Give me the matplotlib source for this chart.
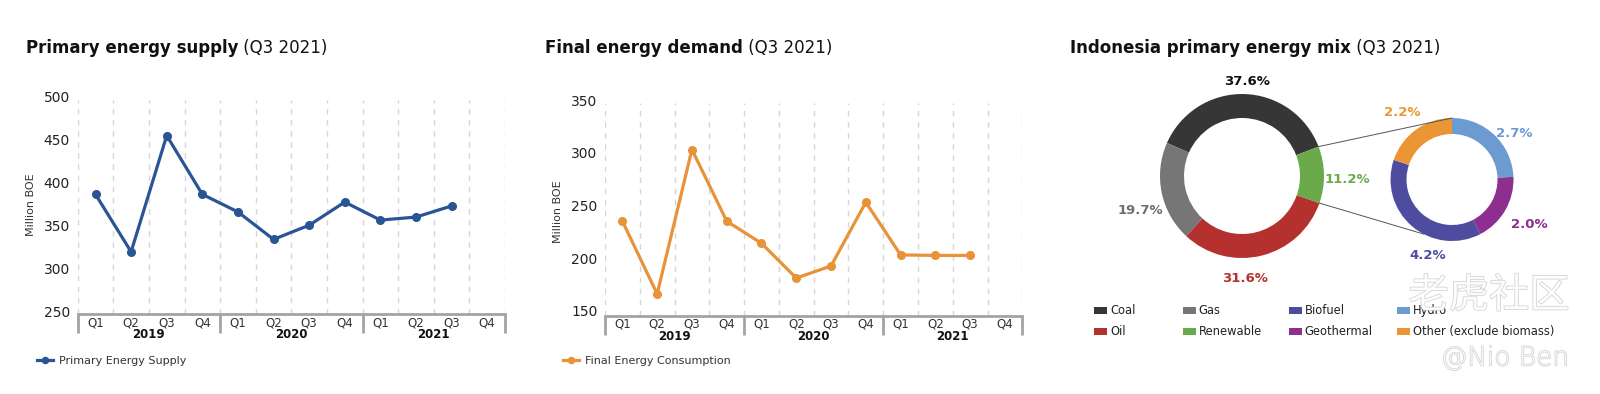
import matplotlib
matplotlib.use("Agg")
import matplotlib.pyplot as plt
import matplotlib.transforms as mtransforms
import matplotlib.patheffects as pe
import numpy as np

# ---------------- data ----------------
quarters = ["Q1", "Q2", "Q3", "Q4"] * 3
years = ["2019", "2020", "2021"]
supply = [386.5, 319.5, 455, 386.5, 366, 334, 350.5, 377.5, 356.5, 360, 373]
demand = [235, 166, 303, 235, 214, 181, 192.5, 253, 203, 202.5, 202.5]

mix_labels = ["Coal", "Gas", "Oil", "Renewable"]
mix_values = [37.6, 19.7, 31.6, 11.2]
ren_labels = ["Biofuel", "Geothermal", "Hydro", "Other (exclude biomass)"]
ren_values = [4.2, 2.0, 2.7, 2.2]

# ---------------- styles ----------------
W, H = 1600, 394
BLUE = "#2a5595"
ORANGE = "#e8923a"
mix_colors = ["#363636", "#767676", "#b5312f", "#6aaa4b"]
ren_colors = ["#4e4c9e", "#8e2e8e", "#6c9bd2", "#ec9535"]
TXT = "#222222"
plt.rcParams["font.family"] = ["DejaVu Sans"]

fig = plt.figure(figsize=(W / 100, H / 100), dpi=100)
fig.patch.set_facecolor("white")


def px_axes(l, t, r, b):
    return fig.add_axes([l / W, 1 - b / H, (r - l) / W, (b - t) / H])


def fx(x):
    return x / W


def fy(y):
    return 1 - y / H


def title(x, y, bold, rest):
    t = fig.text(fx(x), fy(y), bold, fontsize=12, fontweight="bold",
                 color="#111111", va="baseline", ha="left")
    a = plt.annotate(" " + rest, xy=(1, 0), xycoords=t, va="bottom",
                     ha="left", fontsize=12, color="#111111",
                     annotation_clip=False)
    return t, a


def line_chart(box, values, color, ylim, yticks, legend_label, leg_xy, ylab_xy):
    ax = px_axes(*box)
    n = len(quarters)
    x = np.arange(len(values))
    ax.plot(x, values, color=color, lw=2.3, marker="o", ms=5.5, zorder=3,
            solid_joinstyle="round", label=legend_label)
    ax.set_xlim(-0.5, n - 0.5)
    ax.set_ylim(*ylim)
    ax.set_yticks(yticks)
    ax.tick_params(axis="y", length=0, pad=5.5, labelsize=10, labelcolor=TXT)
    ax.set_xticks(np.arange(n))
    ax.set_xticklabels(quarters, fontsize=8.5, color="#333333")
    ax.tick_params(axis="x", length=0, pad=1.5)
    for s in ["top", "right", "left"]:
        ax.spines[s].set_visible(False)
    ax.spines["bottom"].set_color("#a3a3a3")
    ax.spines["bottom"].set_linewidth(2.0)
    for b in np.arange(-0.5, n, 1.0):
        ax.axvline(b, ymin=0, ymax=0.985, color="#d6d6d6", lw=1.0,
                   ls=(0, (4, 4)), zorder=0)
    trans = mtransforms.blended_transform_factory(ax.transData, ax.transAxes)
    hpx = (box[3] - box[1])
    for b in np.arange(-0.5, n, 4.0):
        ax.plot([b, b], [0, -19 / hpx], color="#a3a3a3", lw=2.0,
                transform=trans, clip_on=False, solid_capstyle="butt")
    for i, yr in enumerate(years):
        ax.text(4 * i + 1.5, -20.5 / hpx, yr, transform=trans, ha="center",
                va="center", fontsize=8.5, fontweight="bold", color="#111111")
    fig.text(fx(ylab_xy[0]), fy(ylab_xy[1]), "Million BOE", rotation=90,
             ha="center", va="center", fontsize=8, color="#333333")
    ax.legend(loc="center left", bbox_to_anchor=(fx(leg_xy[0]), fy(leg_xy[1])),
              bbox_transform=fig.transFigure, frameon=False, fontsize=8,
              handlelength=1.4, handletextpad=0.6, borderpad=0,
              borderaxespad=0, labelcolor="#333333", markerscale=0.8)
    return ax


ax1 = line_chart((77.7, 97, 505, 314), supply, BLUE, (247, 500),
                 [250, 300, 350, 400, 450, 500], "Primary Energy Supply",
                 (37, 361), (31.5, 205))
ax2 = line_chart((605, 100, 1022.3, 315.7), demand, ORANGE, (145.3, 350),
                 [150, 200, 250, 300, 350], "Final Energy Consumption",
                 (563, 361), (558, 212))

title(26, 53, "Primary energy supply", "(Q3 2021)")
title(545, 53, "Final energy demand", "(Q3 2021)")
title(1070, 53, "Indonesia primary energy mix", "(Q3 2021)")

# ---------------- donut charts ----------------
ax3 = fig.add_axes([1040 / W, 0, 560 / W, 1])
C1 = (1242, H - 176)
R1 = 82
C2 = (1452, H - 179.5)
R2 = 61.5
start1 = 21
w1, _ = ax3.pie(mix_values, colors=mix_colors, startangle=start1,
                counterclock=True, radius=R1, center=C1, frame=False,
                wedgeprops=dict(width=24, linewidth=0))
start2 = 90 + ren_values[3] / sum(ren_values) * 360
w2, _ = ax3.pie(ren_values, colors=ren_colors, startangle=start2,
                counterclock=True, radius=R2, center=C2, frame=False,
                wedgeprops=dict(width=16, linewidth=0))
ax3.set_xlim(1040, 1600)
ax3.set_ylim(0, H)
ax3.set_aspect("auto")
ax3.axis("off")

# connector lines
a_top = np.deg2rad(start1)
a_bot = np.deg2rad(start1 - mix_values[3] / sum(mix_values) * 360)
p1 = (C1[0] + R1 * np.cos(a_top), C1[1] + R1 * np.sin(a_top))
p2 = (C1[0] + R1 * np.cos(a_bot), C1[1] + R1 * np.sin(a_bot))
q1 = (C2[0], C2[1] + R2)
ab = np.deg2rad(-117.5)
q2 = (C2[0] + R2 * np.cos(ab), C2[1] + R2 * np.sin(ab))
ax3.plot([p1[0], q1[0]], [p1[1], q1[1]], color="#555555", lw=0.7)
ax3.plot([p2[0], q2[0]], [p2[1], q2[1]], color="#555555", lw=0.7)

# percentage labels (pixel layout)
mix_lab_pos = [(1246.7, 81.7), (1140.7, 210), (1245, 279), (1347.7, 179.3)]
mix_lab_col = ["#111111", "#6f6f6f", "#b5312f", "#6aaa4b"]
for v, (x, y), c in zip(mix_values, mix_lab_pos, mix_lab_col):
    ax3.text(x, H - y, f"{v:.1f}%", ha="center", va="center", fontsize=9.5,
             fontweight="bold", color=c)
ren_lab_pos = [(1427.7, 255.7), (1529, 224), (1514, 133.3), (1402.7, 112.3)]
for v, (x, y), c in zip(ren_values, ren_lab_pos, ren_colors):
    ax3.text(x, H - y, f"{v:.1f}%", ha="center", va="center", fontsize=9.5,
             fontweight="bold", color=c)

# legend for donuts
leg_items = [("Coal", mix_colors[0]), ("Gas", mix_colors[1]),
             ("Biofuel", ren_colors[0]), ("Hydro", ren_colors[2]),
             ("Oil", mix_colors[2]), ("Renewable", mix_colors[3]),
             ("Geothermal", ren_colors[1]), ("Other (exclude biomass)", ren_colors[3])]
col_x = [1094, 1182.7, 1288.7, 1396.7]
row_y = [310.7, 331.7]
for i, (lab, c) in enumerate(leg_items):
    x = col_x[i % 4]
    y = row_y[i // 4]
    ax3.add_patch(plt.Rectangle((x, H - y - 3.5), 13, 7, color=c, lw=0))
    ax3.text(x + 16, H - y, lab, ha="left", va="center", fontsize=8.3,
             color="#222222")

# watermark
wm_fx = [pe.withStroke(linewidth=1.0, foreground="#c8c8c8")]
fig.text(fx(1489), fy(296), "老虎社区", ha="center", va="center", fontsize=29,
         color="white", family=["Noto Sans CJK SC", "DejaVu Sans"],
         fontweight="light", path_effects=wm_fx, alpha=0.85, zorder=0.5)
fig.text(fx(1505), fy(358), "@Nio Ben", ha="center", va="center", fontsize=19,
         color="white", family=["DejaVu Sans"], fontweight=200,
         path_effects=wm_fx, alpha=0.85, zorder=0.5)

fig.savefig("out.png", dpi=100, facecolor="white")
